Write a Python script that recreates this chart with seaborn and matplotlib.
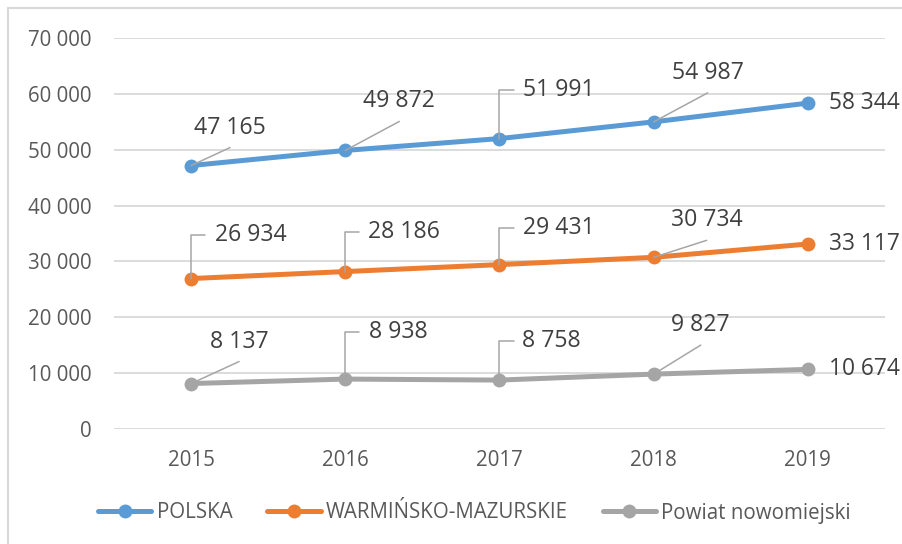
import matplotlib
matplotlib.use("Agg")
import matplotlib.pyplot as plt
import seaborn as sns
import pandas as pd
from matplotlib.patches import Rectangle
from matplotlib.ticker import FuncFormatter

# data
years = ["2015", "2016", "2017", "2018", "2019"]
polska = [47165, 49872, 51991, 54987, 58344]
warminsko = [26934, 28186, 29431, 30734, 33117]
powiat = [8137, 8938, 8758, 9827, 10674]
series_names = ["POLSKA", "WARMIŃSKO-MAZURSKIE", "Powiat nowomiejski"]
colors = ["#5B9BD5", "#ED7D31", "#A5A5A5"]

df = pd.DataFrame({
    "Rok": years * 3,
    "Wartość": polska + warminsko + powiat,
    "Seria": [s for s in series_names for _ in years],
})

# label layout: (dx, dy) of label centre from the point in pixels, leader type
label_layout = {
    "POLSKA": [(39, 38, "diag"), (54, 49, "diag"), (59, 49, "elbow"), (54, 49, "diag"), (21, 0, None)],
    "WARMIŃSKO-MAZURSKIE": [(60, 44, "elbow"), (59, 40, "elbow"), (59, 37, "elbow"), (53, 37, "diag"), (21, 0, None)],
    "Powiat nowomiejski": [(48, 42, "diag"), (53, 47, "elbow"), (52, 39, "elbow"), (47, 49, "diag"), (21, 0, None)],
}

sns.set_theme(style="white")
plt.rcParams["font.family"] = ["Open Sans", "DejaVu Sans"]

fig = plt.figure(figsize=(9.02, 5.44), dpi=100)
ax = fig.add_axes([114 / 902, 1 - 429 / 544, (885 - 114) / 902, (429 - 38) / 544])

# outer chart border (light gray, runs off right/bottom)
fig.patches.append(Rectangle((8 / 902, -0.2), 1.2, 1.2 - 8 / 544, transform=fig.transFigure,
                             fill=False, edgecolor="#d9d9d9", lw=1.5, zorder=0))

sns.lineplot(data=df, x="Rok", y="Wartość", hue="Seria", palette=colors,
             marker="o", markersize=10, markeredgewidth=0, linewidth=3.6,
             ax=ax, legend=False, zorder=2)

ax.set_xlim(-0.5, 4.5)
ax.set_ylim(0, 70000)
ax.set_yticks(range(0, 70001, 10000))
ax.yaxis.set_major_formatter(FuncFormatter(lambda v, p: f"{int(v):,}".replace(",", " ")))
ax.grid(axis="y", color="#d9d9d9", lw=1.3)
ax.grid(axis="x", visible=False)
for s in ax.spines.values():
    s.set_visible(False)
ax.tick_params(axis="y", length=0, pad=16, labelsize=14.8, labelcolor="#595959")
ax.tick_params(axis="x", length=0, pad=15, labelsize=14.8, labelcolor="#595959")
ax.set_xlabel("")
ax.set_ylabel("")

leader = dict(arrowstyle="-", color="#a6a6a6", lw=1.1, shrinkA=0, shrinkB=0)
for name, values in zip(series_names, [polska, warminsko, powiat]):
    for yr, v, (dx, dy, kind) in zip(years, values, label_layout[name]):
        txt = f"{v:,}".replace(",", " ")
        if kind is None:
            ax.annotate(txt, xy=(yr, v), xytext=(dx, dy), textcoords="offset pixels",
                        ha="left", va="center", fontsize=16.4, color="#404040", zorder=4)
            continue
        ax.annotate(txt, xy=(yr, v), xytext=(dx, dy), textcoords="offset pixels",
                    ha="center", va="center", fontsize=16.6, color="#404040", zorder=4)
        if kind == "diag":
            ax.annotate("", xy=(yr, v), xytext=(dx, dy - 20), textcoords="offset pixels",
                        arrowprops=dict(leader, connectionstyle="arc3"), zorder=3)
        else:
            ax.annotate("", xy=(yr, v), xytext=(14, dy), textcoords="offset pixels",
                        arrowprops=dict(leader, connectionstyle="angle,angleA=0,angleB=90,rad=0"), zorder=3)

handles = [plt.Line2D([], [], color=c, lw=3.6, marker="o", markersize=10, markeredgewidth=0) for c in colors]
fig.legend(handles, series_names, loc="center", bbox_to_anchor=(0.526, 1 - 513 / 544), ncol=3,
           frameon=False, fontsize=14.8, handlelength=2.6, handletextpad=0.25, columnspacing=1.7,
           labelcolor="#595959")

fig.savefig("out.png", dpi=100)
